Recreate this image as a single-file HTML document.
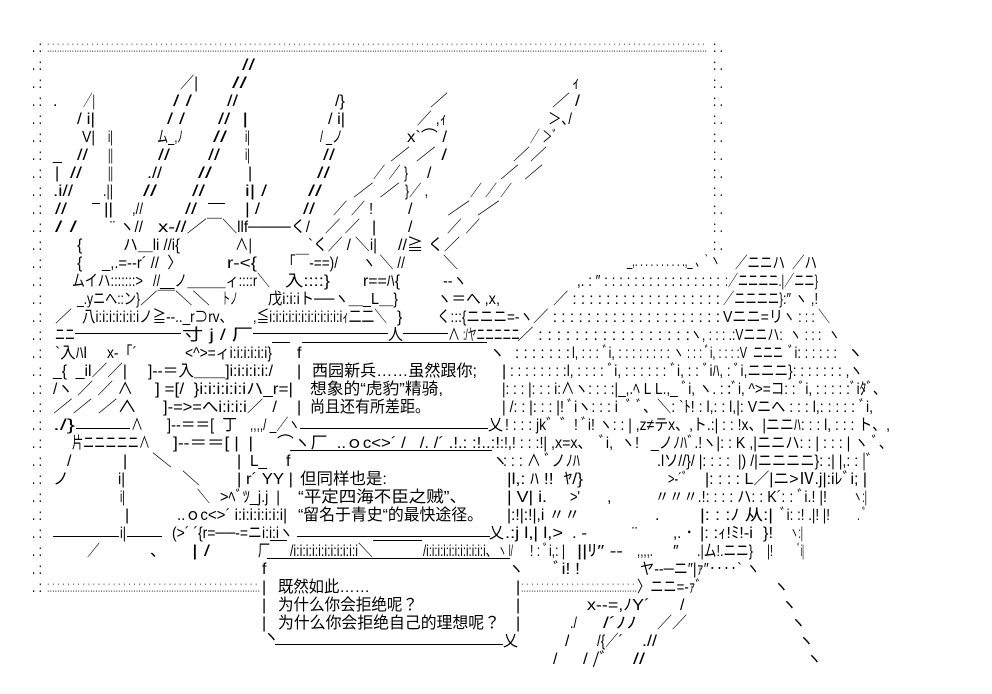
<!DOCTYPE html>
<html><head><meta charset="utf-8">
<style>
html,body{margin:0;padding:0;background:#fff;}
svg{display:block;}
text{font-family:"Liberation Sans","Noto Sans CJK JP",sans-serif;font-size:16px;white-space:pre;fill:#000;font-kerning:none;}
text.dot{fill:#666;}
line{stroke:#000;stroke-width:1;shape-rendering:crispEdges;}
</style></head>
<body>
<svg width="992" height="694" viewBox="0 0 992 694" xmlns="http://www.w3.org/2000/svg" xml:space="preserve">
<rect width="992" height="694" fill="#fff"/>
<!-- frame -->
<text x="32" y="52" textLength="10" lengthAdjust="spacingAndGlyphs">. :</text>
<text class="dot" x="47" y="52" textLength="660" lengthAdjust="spacingAndGlyphs">:.:.:.:.:.:.:.:.:.:.:.:.:.:.:.:.:.:.:.:.:.:.:.:.:.:.:.:.:.:.:.:.:.:.:.:.:.:.:.:.:.:.:.:.:.:.:.:.:.:.:.:.:.:.:.:.:.:.:.:.:.:.:.:.:.:.:.:.:.:.:.:.:.:.:.:.:.:.:.:.:.:.:.:.:.:.:.:.:.:.:.:.:.:.:.:.:.:.:.:.:.:.:.:.:.:.:.:.:.:.:.:.:.:.:.:.:.:.:.:.:.:.:.:.:.:.:.:.:.:.:.:.:.:.</text>
<text x="713" y="52" textLength="10" lengthAdjust="spacingAndGlyphs">: .</text>
<text x="32" y="70" textLength="10" lengthAdjust="spacingAndGlyphs">. :</text>
<text x="32" y="88" textLength="10" lengthAdjust="spacingAndGlyphs">. :</text>
<text x="32" y="106" textLength="10" lengthAdjust="spacingAndGlyphs">. :</text>
<text x="32" y="124" textLength="10" lengthAdjust="spacingAndGlyphs">. :</text>
<text x="32" y="142" textLength="10" lengthAdjust="spacingAndGlyphs">. :</text>
<text x="32" y="160" textLength="10" lengthAdjust="spacingAndGlyphs">. :</text>
<text x="32" y="178" textLength="10" lengthAdjust="spacingAndGlyphs">. :</text>
<text x="32" y="196" textLength="10" lengthAdjust="spacingAndGlyphs">. :</text>
<text x="32" y="214" textLength="10" lengthAdjust="spacingAndGlyphs">. :</text>
<text x="32" y="232" textLength="10" lengthAdjust="spacingAndGlyphs">. :</text>
<text x="32" y="250" textLength="10" lengthAdjust="spacingAndGlyphs">. :</text>
<text x="32" y="268" textLength="10" lengthAdjust="spacingAndGlyphs">. :</text>
<text x="32" y="286" textLength="10" lengthAdjust="spacingAndGlyphs">. :</text>
<text x="32" y="304" textLength="10" lengthAdjust="spacingAndGlyphs">. :</text>
<text x="32" y="322" textLength="10" lengthAdjust="spacingAndGlyphs">. :</text>
<text x="32" y="340" textLength="10" lengthAdjust="spacingAndGlyphs">. :</text>
<text x="32" y="358" textLength="10" lengthAdjust="spacingAndGlyphs">. :</text>
<text x="32" y="376" textLength="10" lengthAdjust="spacingAndGlyphs">. :</text>
<text x="32" y="394" textLength="10" lengthAdjust="spacingAndGlyphs">. :</text>
<text x="32" y="412" textLength="10" lengthAdjust="spacingAndGlyphs">. :</text>
<text x="32" y="430" textLength="10" lengthAdjust="spacingAndGlyphs">. :</text>
<text x="32" y="448" textLength="10" lengthAdjust="spacingAndGlyphs">. :</text>
<text x="32" y="466" textLength="10" lengthAdjust="spacingAndGlyphs">. :</text>
<text x="32" y="484" textLength="10" lengthAdjust="spacingAndGlyphs">. :</text>
<text x="32" y="502" textLength="10" lengthAdjust="spacingAndGlyphs">. :</text>
<text x="32" y="520" textLength="10" lengthAdjust="spacingAndGlyphs">. :</text>
<text x="32" y="538" textLength="10" lengthAdjust="spacingAndGlyphs">. :</text>
<text x="32" y="556" textLength="10" lengthAdjust="spacingAndGlyphs">. :</text>
<text x="32" y="574" textLength="10" lengthAdjust="spacingAndGlyphs">. :</text>
<text x="32" y="592" textLength="10" lengthAdjust="spacingAndGlyphs">. :</text>
<text class="dot" x="47" y="592" textLength="213" lengthAdjust="spacingAndGlyphs">:.:.:.:.:.:.:.:.:.:.:.:.:.:.:.:.:.:.:.:.:.:.:.:.:.:.:.:.:.:.:.:.:.:.:.:.:.:.:.:.:.:.</text>
<text x="713" y="70" textLength="10" lengthAdjust="spacingAndGlyphs">: .</text>
<text x="713" y="88" textLength="10" lengthAdjust="spacingAndGlyphs">: .</text>
<text x="713" y="106" textLength="10" lengthAdjust="spacingAndGlyphs">: .</text>
<text x="713" y="124" textLength="10" lengthAdjust="spacingAndGlyphs">: .</text>
<text x="713" y="142" textLength="10" lengthAdjust="spacingAndGlyphs">: .</text>
<text x="713" y="160" textLength="10" lengthAdjust="spacingAndGlyphs">: .</text>
<text x="713" y="178" textLength="10" lengthAdjust="spacingAndGlyphs">: .</text>
<text x="713" y="196" textLength="10" lengthAdjust="spacingAndGlyphs">: .</text>
<text x="713" y="214" textLength="10" lengthAdjust="spacingAndGlyphs">: .</text>
<text x="713" y="232" textLength="10" lengthAdjust="spacingAndGlyphs">: .</text>
<text x="713" y="250" textLength="10" lengthAdjust="spacingAndGlyphs">: .</text>

<!-- row 1 -->
<text x="242" y="70" textLength="13" lengthAdjust="spacingAndGlyphs">//</text>
<!-- row 2 -->
<text x="180" y="88" textLength="18" lengthAdjust="spacingAndGlyphs">／|</text>
<text x="232" y="88" textLength="15" lengthAdjust="spacingAndGlyphs">//</text>
<text x="572" y="88">ｨ</text>
<!-- row 3 -->
<text x="53" y="106">.</text>
<text x="83" y="106" textLength="12" lengthAdjust="spacingAndGlyphs">／|</text>
<text x="173" y="106" textLength="19" lengthAdjust="spacingAndGlyphs">/ /</text>
<text x="227" y="106" textLength="11" lengthAdjust="spacingAndGlyphs">//</text>
<text x="335" y="106" textLength="10" lengthAdjust="spacingAndGlyphs">/}</text>
<text x="430" y="106" textLength="18" lengthAdjust="spacingAndGlyphs">／</text>
<text x="552" y="106" textLength="28" lengthAdjust="spacingAndGlyphs">／ /</text>
<!-- row 4 -->
<text x="77" y="124" textLength="18" lengthAdjust="spacingAndGlyphs">/ i|</text>
<text x="167" y="124" textLength="18" lengthAdjust="spacingAndGlyphs">/ /</text>
<text x="218" y="124" textLength="30" lengthAdjust="spacingAndGlyphs">//  |</text>
<text x="328" y="124" textLength="17" lengthAdjust="spacingAndGlyphs">/ i|</text>
<text x="417" y="124" textLength="30" lengthAdjust="spacingAndGlyphs">／ ,ｨ</text>
<text x="548" y="124" textLength="24" lengthAdjust="spacingAndGlyphs">＞､/</text>
<!-- row 5 -->
<text x="82" y="142" textLength="13" lengthAdjust="spacingAndGlyphs">V|</text>
<text x="108" y="142" textLength="5" lengthAdjust="spacingAndGlyphs">i|</text>
<text x="157" y="142" textLength="26" lengthAdjust="spacingAndGlyphs">ム_,ﾉ</text>
<text x="213" y="142" textLength="14" lengthAdjust="spacingAndGlyphs">//</text>
<text x="245" y="142" textLength="5" lengthAdjust="spacingAndGlyphs">i|</text>
<text x="320" y="142" textLength="23" lengthAdjust="spacingAndGlyphs">/ _ノ</text>
<text x="407" y="142" textLength="40" lengthAdjust="spacingAndGlyphs">x`⌒ /</text>
<text x="530" y="142" textLength="32" lengthAdjust="spacingAndGlyphs">／ ＞゛</text>
<!-- row 6 -->
<text x="53" y="160">_</text>
<text x="77" y="160" textLength="11" lengthAdjust="spacingAndGlyphs">//</text>
<text x="108" y="160" textLength="5" lengthAdjust="spacingAndGlyphs">||</text>
<text x="158" y="160" textLength="12" lengthAdjust="spacingAndGlyphs">//</text>
<text x="208" y="160" textLength="12" lengthAdjust="spacingAndGlyphs">//</text>
<text x="245" y="160" textLength="5" lengthAdjust="spacingAndGlyphs">i|</text>
<text x="323" y="160" textLength="12" lengthAdjust="spacingAndGlyphs">//</text>
<text x="390" y="160" textLength="57" lengthAdjust="spacingAndGlyphs">／ ／ /</text>
<text x="513" y="160" textLength="34" lengthAdjust="spacingAndGlyphs">／／</text>
<!-- row 7 -->
<text x="55" y="178">|</text>
<text x="70" y="178" textLength="12" lengthAdjust="spacingAndGlyphs">//</text>
<text x="108" y="178" textLength="5" lengthAdjust="spacingAndGlyphs">||</text>
<text x="147" y="178" textLength="15" lengthAdjust="spacingAndGlyphs">.//</text>
<text x="198" y="178" textLength="14" lengthAdjust="spacingAndGlyphs">//</text>
<text x="248" y="178">|</text>
<text x="317" y="178" textLength="13" lengthAdjust="spacingAndGlyphs">//</text>
<text x="373" y="178" textLength="35" lengthAdjust="spacingAndGlyphs">／ ／ }</text>
<text x="427" y="178">/</text>
<text x="500" y="178" textLength="43" lengthAdjust="spacingAndGlyphs">／ ／</text>
<!-- row 8 -->
<text x="53" y="196" textLength="20" lengthAdjust="spacingAndGlyphs">.i//</text>
<text x="103" y="196" textLength="10" lengthAdjust="spacingAndGlyphs">.||</text>
<text x="143" y="196" textLength="14" lengthAdjust="spacingAndGlyphs">//</text>
<text x="192" y="196" textLength="13" lengthAdjust="spacingAndGlyphs">//</text>
<text x="245" y="196" textLength="22" lengthAdjust="spacingAndGlyphs">i| /</text>
<text x="308" y="196" textLength="14" lengthAdjust="spacingAndGlyphs">//</text>
<text x="353" y="196" textLength="47" lengthAdjust="spacingAndGlyphs">／ ／</text>
<text x="405" y="196" textLength="23" lengthAdjust="spacingAndGlyphs">}／ ,</text>
<text x="470" y="196" textLength="42" lengthAdjust="spacingAndGlyphs">／ ／ ／</text>
<!-- row 9 -->
<text x="55" y="214" textLength="12" lengthAdjust="spacingAndGlyphs">//</text>
<line x1="92" y1="203.5" x2="100" y2="203.5"/>
<text x="104" y="214" textLength="9" lengthAdjust="spacingAndGlyphs">||</text>
<text x="132" y="214" textLength="11" lengthAdjust="spacingAndGlyphs">,//</text>
<text x="185" y="214" textLength="12" lengthAdjust="spacingAndGlyphs">//</text>
<line x1="208" y1="203.5" x2="225" y2="203.5"/>
<text x="245" y="214" textLength="15" lengthAdjust="spacingAndGlyphs">| /</text>
<text x="303" y="214" textLength="12" lengthAdjust="spacingAndGlyphs">//</text>
<text x="333" y="214" textLength="40" lengthAdjust="spacingAndGlyphs">／ ／ !</text>
<text x="408" y="214">/</text>
<text x="447" y="214" textLength="53" lengthAdjust="spacingAndGlyphs">／ ／</text>
<!-- row 10 -->
<text x="55" y="232" textLength="22" lengthAdjust="spacingAndGlyphs">/ /</text>
<text x="110" y="232" textLength="33" lengthAdjust="spacingAndGlyphs">¨ ヽ//</text>
<text x="158" y="232" textLength="49" lengthAdjust="spacingAndGlyphs">x‐//／</text>
<text x="207" y="232" textLength="103" lengthAdjust="spacingAndGlyphs">￣＼llf────く/</text>
<text x="325" y="232" textLength="35" lengthAdjust="spacingAndGlyphs">／ ／</text>
<text x="372" y="232">|</text>
<text x="408" y="232">/</text>
<text x="447" y="232" textLength="33" lengthAdjust="spacingAndGlyphs">／ ／</text>
<!-- row 11 -->
<text x="77" y="250">{</text>
<text x="123" y="250" textLength="57" lengthAdjust="spacingAndGlyphs">ハ＿li //i{</text>
<text x="235" y="250" textLength="17" lengthAdjust="spacingAndGlyphs">∧|</text>
<text x="308" y="250" textLength="69" lengthAdjust="spacingAndGlyphs">`く／ / ＼i|</text>
<text x="398" y="250" textLength="62" lengthAdjust="spacingAndGlyphs">//≧ く／</text>
<!-- row 12 -->
<text x="77" y="268">{</text>
<text x="102" y="268" textLength="80" lengthAdjust="spacingAndGlyphs">_,.=‐‐r´ //  〉</text>
<text x="227" y="268" textLength="30" lengthAdjust="spacingAndGlyphs">r‐&lt;{</text>
<text x="282" y="268" textLength="56" lengthAdjust="spacingAndGlyphs">「￣‐==)/</text>
<text x="362" y="268" textLength="43" lengthAdjust="spacingAndGlyphs">ヽ ＼ //</text>
<text x="443" y="268" textLength="15" lengthAdjust="spacingAndGlyphs">＼</text>
<text x="627" y="266" textLength="93" lengthAdjust="spacingAndGlyphs">_,. . . . . . . . . .,_ 、` ヽ</text>
<text x="735" y="268" textLength="82" lengthAdjust="spacingAndGlyphs">／ニニハ  ／ハ</text>
<!-- row 13 -->
<text x="72" y="286" textLength="71" lengthAdjust="spacingAndGlyphs">ムイハ:::::::&gt;</text>
<text x="153" y="286" textLength="117" lengthAdjust="spacingAndGlyphs">//__ノ＿＿＿ィ::::r＼</text>
<text x="285" y="286" textLength="45" lengthAdjust="spacingAndGlyphs">入::::}</text>
<text x="363" y="286" textLength="37" lengthAdjust="spacingAndGlyphs">r==ﾊ{</text>
<text x="443" y="286" textLength="24" lengthAdjust="spacingAndGlyphs">‐-ヽ</text>
<text x="577" y="286" textLength="143" lengthAdjust="spacingAndGlyphs">,. : ″ : : : : : : : : : : : : : : : :</text>
<text x="725" y="286" textLength="93" lengthAdjust="spacingAndGlyphs">:／ニニニニ.|／ニニ}</text>
<!-- row 14 -->
<text x="77" y="304" textLength="63" lengthAdjust="spacingAndGlyphs">_.yニへ::ン}</text>
<text x="140" y="304" textLength="70" lengthAdjust="spacingAndGlyphs">／￣＼＼</text>
<text x="222" y="304" textLength="16" lengthAdjust="spacingAndGlyphs">トノ</text>
<text x="268" y="304" textLength="130" lengthAdjust="spacingAndGlyphs">戊i:i:iト──ヽ＿_L＿}</text>
<text x="437" y="304" textLength="63" lengthAdjust="spacingAndGlyphs">ヽ＝へ ,x,</text>
<text x="553" y="304" textLength="167" lengthAdjust="spacingAndGlyphs">／ : : : : : : : : : : : : : : : : : :</text>
<text x="723" y="304" textLength="60" lengthAdjust="spacingAndGlyphs">／ニニニニ}</text>
<text x="783" y="304" textLength="35" lengthAdjust="spacingAndGlyphs">:″ ヽ ,!</text>
<!-- row 15 -->
<text x="55" y="322" textLength="17" lengthAdjust="spacingAndGlyphs">／</text>
<text x="82" y="322" textLength="151" lengthAdjust="spacingAndGlyphs">八i:i:i:i:i:i:iノ≧‐‐.._r⊃rv、</text>
<text x="253" y="322" textLength="134" lengthAdjust="spacingAndGlyphs">,≦i:i:i:i:i:i:i:i:i:i:i:iｨ二二＼</text>
<text x="397" y="322">}</text>
<text x="437" y="322" textLength="96" lengthAdjust="spacingAndGlyphs">く:::{ニニニ=‐ヽ</text>
<text x="533" y="322" textLength="187" lengthAdjust="spacingAndGlyphs">／ : : : : : : : : : : : : : : : : : : : :</text>
<text x="723" y="322" textLength="60" lengthAdjust="spacingAndGlyphs">Vニニ=リ</text>
<text x="783" y="322" textLength="47" lengthAdjust="spacingAndGlyphs">ヽ : : : ＼</text>
<!-- row 16 -->
<text x="55" y="340" textLength="20" lengthAdjust="spacingAndGlyphs">ニニ</text>
<line x1="75" y1="333.5" x2="181" y2="333.5"/>
<text x="182" y="340" textLength="71" lengthAdjust="spacingAndGlyphs">寸 j / 厂</text>
<line x1="253" y1="333.5" x2="388" y2="333.5"/>
<text x="388" y="340" textLength="15" lengthAdjust="spacingAndGlyphs">人</text>
<line x1="403" y1="333.5" x2="448" y2="333.5"/>
<text x="448" y="340" textLength="12" lengthAdjust="spacingAndGlyphs">∧</text>
<text x="463" y="340" textLength="57" lengthAdjust="spacingAndGlyphs">:/ヤニニニニニ</text>
<text x="517" y="340" textLength="173" lengthAdjust="spacingAndGlyphs">／ : : : : : : : : : : : : : : : : :</text>
<text x="690" y="340" textLength="150" lengthAdjust="spacingAndGlyphs">ヽ, : : : .:Vニニハ:  ヽ : : :  ヽ</text>
<!-- row 17 -->
<text x="55" y="358" textLength="32" lengthAdjust="spacingAndGlyphs">`入ﾊl</text>
<text x="107" y="358" textLength="30" lengthAdjust="spacingAndGlyphs">x‐「´</text>
<text x="185" y="358" textLength="87" lengthAdjust="spacingAndGlyphs">&lt;^&gt;=ィi:i:i:i:i:i}</text>
<line x1="272" y1="342.5" x2="290" y2="342.5"/>
<text x="297" y="358">f</text>
<line x1="302" y1="342.5" x2="487" y2="342.5"/>
<text x="489" y="358">ヽ</text>
<text x="515" y="358" textLength="55" lengthAdjust="spacingAndGlyphs">: : : : : : :</text>
<text x="572" y="358" textLength="98" lengthAdjust="spacingAndGlyphs">l, : : : ﾞi, : : : : : : : :</text>
<text x="673" y="358" textLength="74" lengthAdjust="spacingAndGlyphs">ヽ : : : ﾞi, : : : :V</text>
<text x="753" y="358" textLength="30" lengthAdjust="spacingAndGlyphs">ニニニ</text>
<text x="788" y="358" textLength="49" lengthAdjust="spacingAndGlyphs">ﾞi: : : : : :</text>
<text x="847" y="358">ヽ</text>
<!-- row 18 -->
<text x="53" y="376" textLength="74" lengthAdjust="spacingAndGlyphs">_{  _il／／|</text>
<text x="148" y="376" textLength="125" lengthAdjust="spacingAndGlyphs">]‐‐＝入＿＿]i:i:i:i:i:/</text>
<text x="297" y="376">|</text>
<text x="312" y="376" textLength="165" lengthAdjust="spacingAndGlyphs">西园新兵……虽然跟你;</text>
<text x="502" y="376">|</text>
<text x="510" y="376" textLength="353" lengthAdjust="spacingAndGlyphs">: : : : : : : :l, : : : : ﾞi, : : : : : : ﾞi, : : ﾞiﾊ, : ﾞi,ニニニ}: : : : : : : ,ヽ</text>
<!-- row 19 -->
<text x="53" y="394" textLength="80" lengthAdjust="spacingAndGlyphs">/ヽ ／ ／ ∧</text>
<text x="155" y="394" textLength="138" lengthAdjust="spacingAndGlyphs">] =[/  }i:i:i:i:i:iハ_r=|</text>
<text x="310" y="394" textLength="133" lengthAdjust="spacingAndGlyphs">想象的“虎豹”精骑,</text>
<text x="502" y="394" textLength="378" lengthAdjust="spacingAndGlyphs">|: : : |: : : i:∧ヽ: : : :|_,.ﾍ L L.,_ ﾞi, ヽ. : :ﾞi, ^&gt;=コ: : ﾞi, : : : : :ﾞiﾀﾞ､</text>
<!-- row 20 -->
<text x="53" y="412" textLength="84" lengthAdjust="spacingAndGlyphs">／／ ／∧</text>
<text x="163" y="412" textLength="114" lengthAdjust="spacingAndGlyphs">]‐=&gt;=へi:i:i:i／  /</text>
<text x="297" y="412">|</text>
<text x="310" y="412" textLength="120" lengthAdjust="spacingAndGlyphs">尚且还有所差距。</text>
<text x="502" y="412" textLength="371" lengthAdjust="spacingAndGlyphs">| /: : |: : : |! ﾞiヽ: : : i  ﾞ ﾞ、＼: `ﾄ! : l,: : l,|: Vニへ : : : l,: : : : : ﾞi,</text>
<!-- row 21 -->
<text x="53" y="430" textLength="22" lengthAdjust="spacingAndGlyphs">./}</text>
<line x1="76" y1="428.5" x2="130" y2="428.5"/>
<text x="131" y="430" textLength="12" lengthAdjust="spacingAndGlyphs">∧</text>
<text x="167" y="430" textLength="70" lengthAdjust="spacingAndGlyphs">]‐‐＝＝[  丁</text>
<text x="250" y="430" textLength="50" lengthAdjust="spacingAndGlyphs">,,,,/ _／ヽ</text>
<line x1="300" y1="428.5" x2="488" y2="428.5"/>
<text x="488" y="430" textLength="15" lengthAdjust="spacingAndGlyphs">乂</text>
<text x="505" y="430" textLength="385" lengthAdjust="spacingAndGlyphs">! : : : jk゛゛! ﾞi! ヽ: : | ,z≠テx、,ト.:| : : !x、|ニニﾊ: : : l, : : : ト、,</text>
<!-- row 22 -->
<text x="72" y="448" textLength="78" lengthAdjust="spacingAndGlyphs">片ニニニニニ∧</text>
<text x="173" y="448" textLength="80" lengthAdjust="spacingAndGlyphs">]‐‐＝＝[ |  |</text>
<text x="277" y="448" textLength="223" lengthAdjust="spacingAndGlyphs">⌒ヽ厂  ..ｏc&lt;&gt;´ /   /. /´ .!.: :!..:!</text>
<text x="500" y="448" textLength="393" lengthAdjust="spacingAndGlyphs">:!,! : : :!| ,x=x、  ﾞi,  ヽ!   _ノﾉﾊﾞ.!ヽ|: : K ,|ニニハ: : | : : : | ヽ ﾞ、</text>
<!-- row 23 -->
<text x="67" y="466">/</text>
<text x="123" y="466">|</text>
<text x="152" y="466" textLength="20" lengthAdjust="spacingAndGlyphs">＼</text>
<text x="237" y="466">|</text>
<text x="250" y="466" textLength="17" lengthAdjust="spacingAndGlyphs">L_</text>
<text x="286" y="466">f</text>
<line x1="290" y1="450.5" x2="492" y2="450.5"/>
<text x="492" y="466">ヽ</text>
<text x="503" y="466" textLength="77" lengthAdjust="spacingAndGlyphs">: : : ∧ ﾞノﾉﾊ</text>
<text x="657" y="466" textLength="216" lengthAdjust="spacingAndGlyphs">.lソ//}/ |: : : :  |) /|ニニニニ}: :| |,: : |ﾞ</text>
<!-- row 24 -->
<text x="53" y="484">ノ</text>
<text x="118" y="484" textLength="7" lengthAdjust="spacingAndGlyphs">i|</text>
<text x="182" y="484" textLength="18" lengthAdjust="spacingAndGlyphs">＼</text>
<text x="237" y="484" textLength="56" lengthAdjust="spacingAndGlyphs">| r´ YY |</text>
<text x="300" y="484" textLength="87" lengthAdjust="spacingAndGlyphs">但同样也是:</text>
<text x="507" y="484" textLength="76" lengthAdjust="spacingAndGlyphs">|l,: ﾊ !!  ﾔ/}</text>
<text x="668" y="484" textLength="25" lengthAdjust="spacingAndGlyphs">&gt;‐´゛</text>
<text x="705" y="484" textLength="162" lengthAdjust="spacingAndGlyphs">|: : : : L／|ニ&gt;Ⅳ.j|:iﾚﾞi; |</text>
<!-- row 25 -->
<text x="120" y="502" textLength="5" lengthAdjust="spacingAndGlyphs">i|</text>
<text x="197" y="502" textLength="13" lengthAdjust="spacingAndGlyphs">＼</text>
<text x="220" y="502" textLength="60" lengthAdjust="spacingAndGlyphs">&gt;ﾍﾞﾂ_j.j  |</text>
<text x="298" y="502" textLength="169" lengthAdjust="spacingAndGlyphs">“平定四海不臣之贼”、</text>
<text x="507" y="502" textLength="40" lengthAdjust="spacingAndGlyphs">| V| i.</text>
<text x="570" y="502" textLength="10" lengthAdjust="spacingAndGlyphs">&gt;'</text>
<text x="607" y="502">,</text>
<text x="655" y="502" textLength="172" lengthAdjust="spacingAndGlyphs">〃〃〃.!: : : : ハ: : K´: : ﾞi.! |!</text>
<text x="853" y="502" textLength="14" lengthAdjust="spacingAndGlyphs">ヽ:|</text>
<!-- row 26 -->
<text x="125" y="520">|</text>
<text x="177" y="520" textLength="110" lengthAdjust="spacingAndGlyphs">..ｏc&lt;&gt;´ i:i:i:i:i:i:i|</text>
<text x="298" y="520" textLength="185" lengthAdjust="spacingAndGlyphs">“留名于青史“的最快途径。</text>
<text x="507" y="520" textLength="73" lengthAdjust="spacingAndGlyphs">|:!|:!|,i 〃〃</text>
<text x="655" y="520">.</text>
<text x="700" y="520" textLength="73" lengthAdjust="spacingAndGlyphs">|: : :ﾉ 从:|</text>
<text x="780" y="520" textLength="50" lengthAdjust="spacingAndGlyphs">ﾞi: :! .|! |!</text>
<text x="857" y="520" textLength="10" lengthAdjust="spacingAndGlyphs">. ﾞ</text>
<!-- row 27 -->
<line x1="53" y1="536.5" x2="119" y2="536.5"/>
<text x="120" y="538" textLength="6" lengthAdjust="spacingAndGlyphs">i|</text>
<line x1="127" y1="536.5" x2="162" y2="536.5"/>
<text x="172" y="538" textLength="121" lengthAdjust="spacingAndGlyphs">(&gt;´ ´{r=──‐=ニi:i:iヽ</text>
<line x1="297" y1="536.5" x2="490" y2="536.5"/>
<text x="489" y="538" textLength="15" lengthAdjust="spacingAndGlyphs">乂</text>
<text x="505" y="538" textLength="58" lengthAdjust="spacingAndGlyphs">.:j l,| l,&gt;</text>
<text x="572" y="538" textLength="15" lengthAdjust="spacingAndGlyphs">. ‐</text>
<text x="632" y="538">¨</text>
<text x="673" y="538" textLength="20" lengthAdjust="spacingAndGlyphs">,. ･</text>
<text x="700" y="538" textLength="53" lengthAdjust="spacingAndGlyphs">|: :ｨ!ﾐ!‐i</text>
<text x="763" y="538" textLength="10" lengthAdjust="spacingAndGlyphs">}!</text>
<text x="790" y="538" textLength="13" lengthAdjust="spacingAndGlyphs">ヽ:|</text>
<!-- row 28 -->
<text x="87" y="556" textLength="13" lengthAdjust="spacingAndGlyphs">／</text>
<text x="150" y="556">、</text>
<text x="192" y="556" textLength="18" lengthAdjust="spacingAndGlyphs">| /</text>
<text x="258" y="556" textLength="12" lengthAdjust="spacingAndGlyphs">厂</text>
<line x1="270" y1="540.5" x2="287" y2="540.5"/>
<text x="290" y="556" textLength="68" lengthAdjust="spacingAndGlyphs">/i:i:i:i:i:i:i:i:i:i:i</text>
<text x="358" y="556" textLength="15" lengthAdjust="spacingAndGlyphs">＼</text>
<line x1="373" y1="540.5" x2="422" y2="540.5"/>
<text x="423" y="556" textLength="74" lengthAdjust="spacingAndGlyphs">/i:i:i:i:i:i:i:i:i:i:i、</text>
<text x="498" y="556" textLength="15" lengthAdjust="spacingAndGlyphs">ヽ l/</text>
<text x="530" y="556" textLength="35" lengthAdjust="spacingAndGlyphs">! : ﾞi,: |</text>
<text x="577" y="556" textLength="46" lengthAdjust="spacingAndGlyphs">||ﾘ″ ‐‐</text>
<text x="637" y="556" textLength="16" lengthAdjust="spacingAndGlyphs">,,,,.</text>
<text x="673" y="556">″</text>
<text x="697" y="556" textLength="56" lengthAdjust="spacingAndGlyphs">.|ム!.ニニ}</text>
<text x="767" y="556" textLength="6" lengthAdjust="spacingAndGlyphs">|!</text>
<text x="797" y="556" textLength="7" lengthAdjust="spacingAndGlyphs">ﾞi|</text>
<!-- row 29 -->
<text x="262" y="574">f</text>
<line x1="267" y1="558.5" x2="510" y2="558.5"/>
<text x="508" y="574">ヽ</text>
<text x="553" y="574" textLength="27" lengthAdjust="spacingAndGlyphs">ﾞi! !</text>
<text x="640" y="574" textLength="120" lengthAdjust="spacingAndGlyphs">ヤ‐‐─ニ″|ｧ″‥‥` ヽ</text>
<!-- row 30 -->
<text x="262" y="592">|</text>
<text x="278" y="592" textLength="92" lengthAdjust="spacingAndGlyphs">既然如此……</text>
<text x="516" y="592">|</text>
<text class="dot" x="521" y="592" textLength="116" lengthAdjust="spacingAndGlyphs">:.:.:.:.:.:.:.:.:.:.:.:.:.:.:.:.:.:.:.:.:.:.:.</text>
<text x="637" y="592" textLength="65" lengthAdjust="spacingAndGlyphs">〉ニニ=‐ｧﾞ</text>
<text x="773" y="592">ヽ</text>
<!-- row 31 -->
<text x="262" y="610">|</text>
<text x="278" y="610" textLength="140" lengthAdjust="spacingAndGlyphs">为什么你会拒绝呢？</text>
<text x="516" y="610">|</text>
<text x="587" y="610" textLength="63" lengthAdjust="spacingAndGlyphs">x‐‐=,ﾉY´</text>
<text x="680" y="610">/</text>
<text x="781" y="610">ヽ</text>
<!-- row 32 -->
<text x="262" y="628">|</text>
<text x="278" y="628" textLength="222" lengthAdjust="spacingAndGlyphs">为什么你会拒绝自己的理想呢？</text>
<text x="516" y="628">|</text>
<text x="570" y="628" textLength="7" lengthAdjust="spacingAndGlyphs">./</text>
<text x="603" y="628" textLength="34" lengthAdjust="spacingAndGlyphs">/´ﾉﾉ</text>
<text x="657" y="628" textLength="30" lengthAdjust="spacingAndGlyphs">／／</text>
<text x="790" y="628">ヽ</text>
<!-- row 33 -->
<text x="263" y="642">ヽ</text>
<line x1="275" y1="644.5" x2="503" y2="644.5"/>
<text x="503" y="646" textLength="15" lengthAdjust="spacingAndGlyphs">乂</text>
<text x="565" y="646">/</text>
<text x="597" y="646" textLength="26" lengthAdjust="spacingAndGlyphs">/{／´</text>
<text x="642" y="646" textLength="15" lengthAdjust="spacingAndGlyphs">.//</text>
<text x="798" y="646">ヽ</text>
<!-- row 34 -->
<text x="553" y="664">/</text>
<text x="583" y="664" textLength="25" lengthAdjust="spacingAndGlyphs">/ /ﾞ</text>
<text x="633" y="664" textLength="12" lengthAdjust="spacingAndGlyphs">//</text>
<text x="806" y="664">ヽ</text>
</svg>
</body></html>
